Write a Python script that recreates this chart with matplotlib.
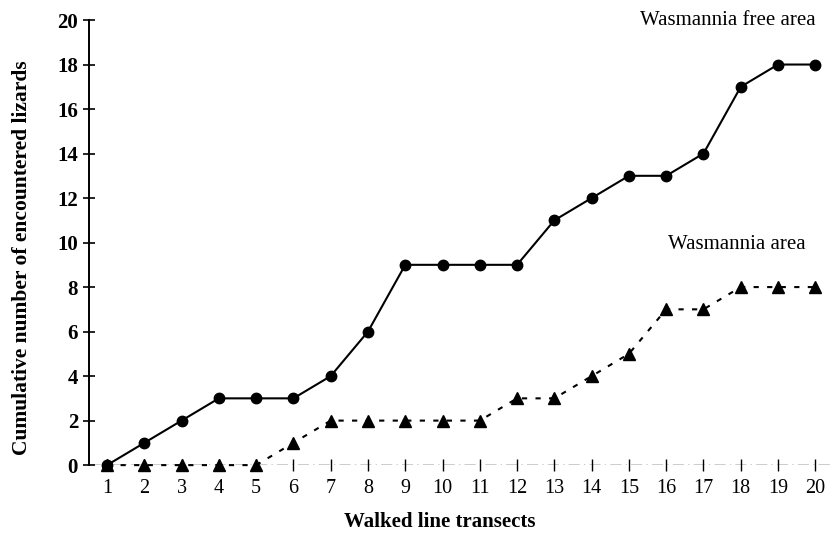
import matplotlib
matplotlib.use("Agg")
import matplotlib.pyplot as plt

transects = list(range(1, 21))
free_area = [0, 1, 2, 3, 3, 3, 4, 6, 9, 9, 9, 9, 11, 12, 13, 13, 14, 17, 18, 18]
wasmannia_area = [0, 0, 0, 0, 0, 1, 2, 2, 2, 2, 2, 3, 3, 4, 5, 7, 7, 8, 8, 8]
yticks = list(range(0, 21, 2))

plt.rcParams['font.family'] = ['Liberation Serif', 'DejaVu Serif']

fig = plt.figure(figsize=(8.33, 5.34), dpi=100)
ax = fig.add_axes([0.107, 0.129, 0.891, 0.8335])

ax.plot(transects, free_area, color='black', lw=1.5, marker='o', ms=7.5,
        clip_on=False, zorder=3)
ax.plot(transects, wasmannia_area, color='black', lw=1.5, ls=(0, (2.5, 4)),
        marker='^', ms=8.5, clip_on=False, zorder=3)

ax.axhline(0, color='black', lw=1.0, ls=(0, (8, 3, 1, 3)), zorder=1)

ax.set_xlim(0.52, 20.43)
ax.set_ylim(0, 20)
ax.set_xticks(transects)
ax.set_yticks(yticks)
for s in ['top', 'right', 'bottom']:
    ax.spines[s].set_visible(False)
ax.spines['left'].set_linewidth(1.4)
ax.tick_params(axis='y', direction='inout', length=8, width=1.2, labelsize=15, pad=4)
ax.tick_params(axis='x', direction='inout', length=8, width=1.0, labelsize=14.5, pad=6)
for lab in ax.get_yticklabels():
    lab.set_fontweight('bold')

ax.set_xlabel('Walked line transects', fontsize=15, fontweight='bold')
ax.set_ylabel('Cumulative number of encountered lizards', fontsize=15.5,
              fontweight='bold')
ax.xaxis.set_label_coords(0.473, -0.105)
ax.yaxis.set_label_coords(-0.077, 0.467)

ax.text(20.0, 20.0, 'Wasmannia free area', fontsize=15, ha='right', va='center')
ax.text(19.75, 9.9, 'Wasmannia area', fontsize=15, ha='right', va='center')

fig.savefig('out.png', dpi=100)
